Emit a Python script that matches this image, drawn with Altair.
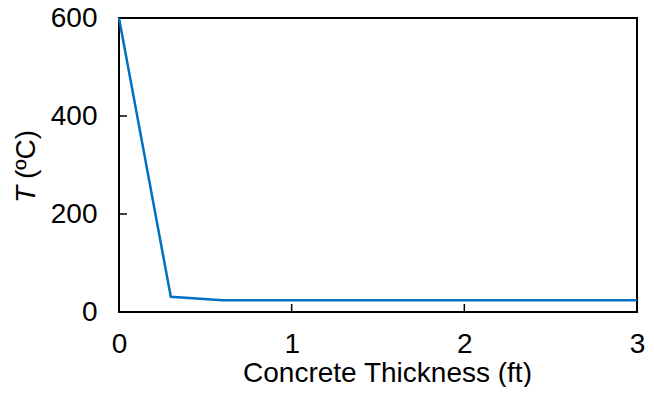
import altair as alt
import pandas as pd

# Data
thickness_ft = [0.0, 0.3, 0.6, 0.9, 1.2, 1.5, 1.8, 2.1, 2.4, 2.7, 3.0]
temperature_c = [600, 31, 24, 24, 24, 24, 24, 24, 24, 24, 24]
x_ticks = [1, 2]
y_ticks = [200, 400]

FONT = "Liberation Sans"
FS = 28
W, H = 518, 294

df = pd.DataFrame({"x": thickness_ft, "T": temperature_c})
xt = pd.DataFrame({"x": x_ticks})
yt = pd.DataFrame({"y": y_ticks})

xscale = alt.Scale(domain=[0, 3], nice=False)
yscale = alt.Scale(domain=[0, 600], nice=False)

line = alt.Chart(df).mark_line(color="#0070C0", strokeWidth=2.5).encode(
    x=alt.X("x:Q", scale=xscale, axis=alt.Axis(
        values=[0, 1, 2, 3], format="d", title="Concrete Thickness (ft)",
        labelFontSize=FS, labelFont=FONT, labelColor="black", labelPadding=18,
        tickSize=0, domain=False, grid=False, labelFlush=False,
        titleFont=FONT, titleFontSize=FS, titleFontWeight="normal", titleColor="black",
        titleX=268, titleY=69, titleBaseline="alphabetic", titleAlign="center")),
    y=alt.Y("T:Q", scale=yscale, axis=alt.Axis(
        values=[0, 200, 400, 600], title=None,
        labelFontSize=FS, labelFont=FONT, labelColor="black", labelPadding=22,
        tickSize=0, domain=False, grid=False, labelFlush=False)),
)

xtick = alt.Chart(xt).mark_rule(color="black", strokeWidth=1.5).encode(
    x=alt.X("x:Q", scale=xscale), y=alt.value(H), y2=alt.value(H - 8))
ytick = alt.Chart(yt).mark_rule(color="black", strokeWidth=1.5).encode(
    y=alt.Y("y:Q", scale=yscale), x=alt.value(0), x2=alt.value(8))

title_t = alt.Chart(pd.DataFrame({"t": ["T"]})).mark_text(
    angle=270, align="right", baseline="middle", font=FONT, fontSize=FS,
    fontStyle="italic", color="black").encode(
    text="t:N", x=alt.value(-92), y=alt.value(168))
title_u = alt.Chart(pd.DataFrame({"t": ["(ºC)"]})).mark_text(
    angle=270, align="left", baseline="middle", font=FONT, fontSize=FS,
    color="black").encode(
    text="t:N", x=alt.value(-92), y=alt.value(161))

chart = alt.layer(line, xtick, ytick, title_t, title_u).properties(
    width=W, height=H,
    autosize=alt.AutoSizeParams(type="none"),
    padding={"left": 111, "top": 10, "right": 9, "bottom": 75},
).configure(background="white").configure_view(stroke="black", strokeWidth=2)

chart.save("out.html", embed_options={"renderer": "svg", "actions": False})
